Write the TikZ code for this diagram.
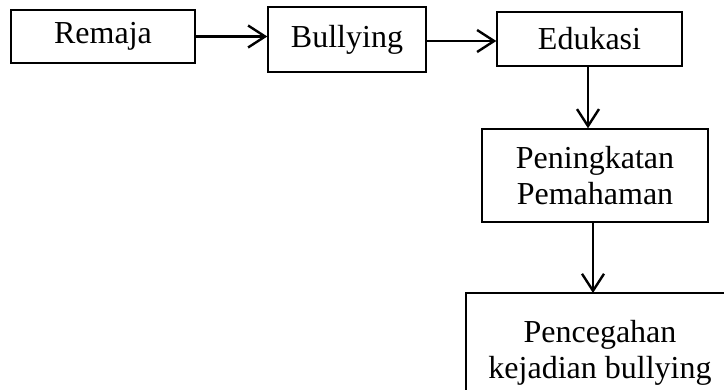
\documentclass[tikz,border=0pt]{standalone}
\usepackage{fontspec}
\setmainfont{Liberation Serif}
\usetikzlibrary{arrows.meta}
\begin{document}
\begin{tikzpicture}[x=1pt,y=-1pt,
  box/.style={draw=black, line width=1.4pt, rectangle, inner sep=0pt, align=center,
    font=\fontsize{32}{36}\selectfont},
  link/.style={line width=2.4pt, -{Straight Barb[length=17pt,width=22pt,line width=2.4pt]}}]
\useasboundingbox (0,0) rectangle (724,390);
\clip (0,0) rectangle (724,390);
\node[box, minimum width=184pt, minimum height=53pt] (rem) at (103,36.5) {Remaja};
\node[box, minimum width=158pt, minimum height=65pt] (bul) at (347,39.5) {Bullying};
\node[box, minimum width=185pt, minimum height=54pt] (edu) at (589.5,39) {Edukasi};
\node[box, minimum width=226pt, minimum height=93pt] (pen) at (595,175.5) {Peningkatan\\Pemahaman};
\node[box, minimum width=268pt, minimum height=113pt, text depth=0pt] (pc) at (600,349.5) {Pencegahan\\kejadian bullying};
\coordinate (pcin) at (593,293);
\draw[link] (rem.east) -- (rem.east -| bul.west);
\draw[link] (bul.east |- 0,41) -- (edu.west |- 0,41);
\draw[link] (edu.south -| 588,0) -- (pen.north -| 588,0);
\draw[link] (pen.south -| 593,0) -- (pcin);
\end{tikzpicture}
\end{document}
